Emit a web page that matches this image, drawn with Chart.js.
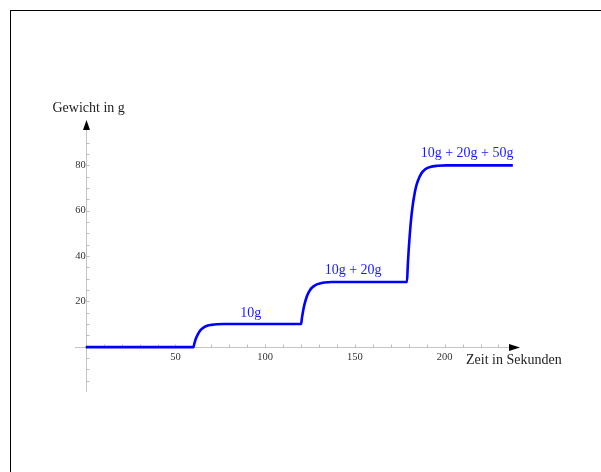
<!DOCTYPE html>
<html>
<head>
<meta charset="utf-8">
<script src="https://cdn.jsdelivr.net/npm/chart.js@4/dist/chart.umd.min.js"></script>
<style>
  html, body { margin: 0; padding: 0; background: #fff; overflow: hidden; }
  #rahmen { position: absolute; left: 10px; top: 10px; width: 1000px; height: 1000px;
            border-left: 1px solid #000; border-top: 1px solid #000; }
  #wrap { position: absolute; left: 0; top: 0; width: 601px; height: 472px; }
</style>
</head>
<body>
<div id="rahmen"></div>
<div id="wrap"><canvas id="chart" width="601" height="472"></canvas></div>
<script>
  // Messkurve
  const zeitSek = [0, 60, 60.5, 61, 61.5, 62, 63, 64, 65, 66, 68, 70, 73, 77,
    120, 120.5, 121, 121.5, 122, 123, 124, 125, 126, 128, 130, 133, 137,
    179, 179.5, 180, 180.5, 181, 182, 183, 184, 185, 187, 189, 192, 196, 201, 238];
  const gewichtG = [-0.2, -0.2, 1.3, 2.7, 3.8, 4.7, 6.2, 7.3, 8.0, 8.6, 9.3, 9.6, 9.9, 10,
    10, 12.8, 15.2, 17.3, 19.0, 21.7, 23.6, 25.0, 26.0, 27.2, 27.8, 28.3, 28.5,
    28.5, 36.4, 43.1, 48.7, 53.6, 61.1, 66.4, 70.3, 73.0, 76.4, 78.2, 79.3, 79.8, 80, 80];

  const xTicks = [50, 100, 150, 200];
  const yTicks = [20, 40, 60, 80];
  const xMinor = [10, 20, 30, 40, 50, 60, 70, 80, 90, 100, 110, 120, 130, 140, 150,
    160, 170, 180, 190, 200, 210, 220, 230];
  const yMinor = [-15, -10, -5, 5, 10, 15, 20, 25, 30, 35, 40, 45, 50, 55, 60, 65, 70,
    75, 80, 85, 90];

  const beschriftungText = ['10g', '10g + 20g', '10g + 20g + 50g'];
  const beschriftungX = [92, 149, 212.5];
  const beschriftungY = [13, 32, 83.5];

  const punkte = zeitSek.map((t, i) => ({ x: t, y: gewichtG[i] }));

  const serif = "'Liberation Serif', 'DejaVu Serif', serif";

  const achsenPlugin = {
    id: 'achsen',
    beforeDatasetsDraw(chart) {
      const { ctx, chartArea, scales: { x, y } } = chart;
      const x0 = Math.round(x.getPixelForValue(0)) + 0.5;
      const y0 = Math.round(y.getPixelForValue(0)) + 0.5;
      const xEnde = chartArea.right;
      const yEnde = chartArea.top;
      ctx.save();
      ctx.strokeStyle = '#c4c4c4';
      ctx.lineWidth = 1;
      ctx.beginPath();
      ctx.moveTo(chartArea.left, y0);
      ctx.lineTo(xEnde - 10, y0);
      ctx.moveTo(x0, chartArea.bottom);
      ctx.lineTo(x0, yEnde + 9);
      ctx.stroke();

      ctx.strokeStyle = '#bcbcbc';
      ctx.beginPath();
      xMinor.forEach(v => {
        const px = Math.round(x.getPixelForValue(v)) + 0.5;
        ctx.moveTo(px, y0);
        ctx.lineTo(px, y0 - 3);
      });
      yMinor.forEach(v => {
        const py = Math.round(y.getPixelForValue(v)) + 0.5;
        ctx.moveTo(x0, py);
        ctx.lineTo(x0 + 3, py);
      });
      ctx.stroke();

      // Pfeilspitzen
      ctx.fillStyle = '#000';
      ctx.beginPath();
      ctx.moveTo(xEnde, y0);
      ctx.lineTo(xEnde - 11, y0 - 3.5);
      ctx.lineTo(xEnde - 11, y0 + 3.5);
      ctx.closePath();
      ctx.fill();
      ctx.beginPath();
      ctx.moveTo(x0, yEnde);
      ctx.lineTo(x0 - 3.5, yEnde + 10);
      ctx.lineTo(x0 + 3.5, yEnde + 10);
      ctx.closePath();
      ctx.fill();

      // Achsentitel
      ctx.fillStyle = '#222';
      ctx.font = '14px ' + serif;
      ctx.textAlign = 'left';
      ctx.textBaseline = 'alphabetic';
      ctx.fillText('Gewicht in g', x0 - 34, yEnde - 8);
      ctx.fillText('Zeit in Sekunden', xEnde - 54, y0 + 16);
      ctx.restore();
    },
    afterDatasetsDraw(chart) {
      const { ctx, scales: { x, y } } = chart;
      ctx.save();
      ctx.fillStyle = '#1a1aff';
      ctx.font = '14px ' + serif;
      ctx.textAlign = 'center';
      ctx.textBaseline = 'alphabetic';
      beschriftungText.forEach((txt, i) => {
        ctx.fillText(txt, x.getPixelForValue(beschriftungX[i]), y.getPixelForValue(beschriftungY[i]));
      });
      ctx.restore();
    }
  };

  const ctx = document.getElementById('chart').getContext('2d');
  const chart = new Chart(ctx, {
    type: 'line',
    data: {
      datasets: [{
        data: punkte,
        borderColor: '#0000ff',
        borderWidth: 2.6,
        pointRadius: 0,
        fill: false,
        cubicInterpolationMode: 'monotone',
        borderJoinStyle: 'round'
      }]
    },
    options: {
      responsive: false,
      animation: false,
      devicePixelRatio: 1,
      layout: { padding: { left: 75, right: 81, top: 120, bottom: 80 } },
      plugins: { legend: { display: false }, tooltip: { enabled: false } },
      scales: {
        x: {
          type: 'linear',
          min: -6,
          max: 242,
          position: { y: 0 },
          grid: { display: false, drawTicks: false },
          border: { display: false },
          afterBuildTicks: s => { s.ticks = xTicks.map(v => ({ value: v })); },
          ticks: { color: '#333', padding: 4, maxRotation: 0, autoSkip: false,
                   font: { family: serif, size: 10.5 } }
        },
        y: {
          type: 'linear',
          min: -20,
          max: 100,
          position: { x: 0 },
          grid: { display: false, drawTicks: false },
          border: { display: false },
          afterBuildTicks: s => { s.ticks = yTicks.map(v => ({ value: v })); },
          ticks: { color: '#333', padding: 2, autoSkip: false,
                   font: { family: serif, size: 10.5 } }
        }
      }
    },
    plugins: [achsenPlugin]
  });
</script>
</body>
</html>
